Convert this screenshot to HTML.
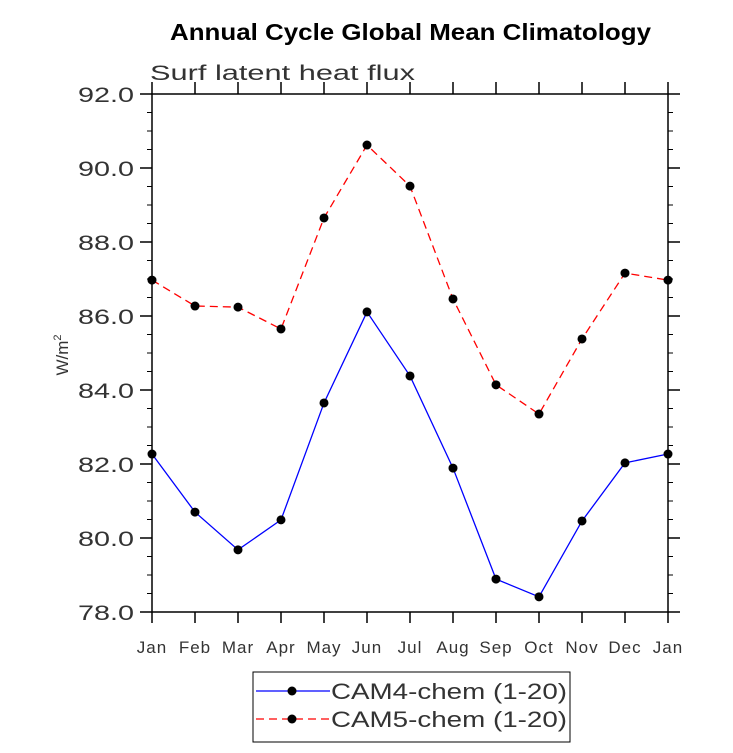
<!DOCTYPE html>
<html><head><meta charset="utf-8"><style>body{margin:0;background:#fff}</style></head>
<body>
<svg id="c" width="733" height="748" xmlns="http://www.w3.org/2000/svg" font-family="Liberation Sans, sans-serif"></svg>
<script>
const months=["Jan","Feb","Mar","Apr","May","Jun","Jul","Aug","Sep","Oct","Nov","Dec","Jan"];
const cam4=[82.27,80.70,79.68,80.49,83.65,86.11,84.38,81.89,78.89,78.41,80.46,82.03,82.27];
const cam5=[86.97,86.27,86.24,85.65,88.65,90.62,89.51,86.46,84.14,83.35,85.38,87.16,86.97];
const yTicks=[78,80,82,84,86,88,90,92];
const NS="http://www.w3.org/2000/svg";
const svg=document.getElementById('c');
const L=152,R=668,T=94,B=612,ymin=78,ymax=92;
const xs=i=>L+(R-L)*i/(months.length-1);
const ys=v=>B-(v-ymin)/(ymax-ymin)*(B-T);
function mk(tag,a,txt){const e=document.createElementNS(NS,tag);for(const k in a)e.setAttribute(k,a[k]);if(txt!=null)e.textContent=txt;svg.appendChild(e);return e;}
let e;
e=mk('text',{x:170,y:40,'font-size':23,'font-weight':'bold',textLength:481,lengthAdjust:'spacingAndGlyphs'},'Annual Cycle Global Mean Climatology');


e=mk('text',{x:150,y:80,'font-size':21,fill:'#333',textLength:265,lengthAdjust:'spacingAndGlyphs'},'Surf latent heat flux');


e=mk('rect',{x:L,y:T,width:R-L,height:B-T,fill:'none',stroke:'#000','stroke-width':1.5});


for(let v=ymin;v<=ymax+1e-9;v+=0.5){
 const major=Math.abs(v-Math.round(v/2)*2)<1e-9;const len=major?12:5;const y=ys(v);
 mk('line',{x1:L-len,x2:L,y1:y,y2:y,stroke:'#000','stroke-width':major?1.5:1});
 mk('line',{x1:R,x2:R+len,y1:y,y2:y,stroke:'#000','stroke-width':major?1.5:1});
}
yTicks.forEach(v=>{e=mk('text',{x:L-18,y:ys(v)+8,'text-anchor':'end','font-size':21,fill:'#333',textLength:56,lengthAdjust:'spacingAndGlyphs'},v.toFixed(1));

});
months.forEach((m,i)=>{const x=xs(i);
 mk('line',{x1:x,x2:x,y1:B,y2:B+11,stroke:'#000','stroke-width':1.5});
 mk('line',{x1:x,x2:x,y1:T-12,y2:T,stroke:'#000','stroke-width':1.5});
 e=mk('text',{x:x,y:653,'text-anchor':'middle','font-size':17,fill:'#333','letter-spacing':'1'},m);
 
 });
e=mk('text',{x:0,y:0,transform:'translate(68,355) rotate(-90)','text-anchor':'middle','font-size':17,fill:'#333'},'');
e.innerHTML='W/m<tspan dy="-7" font-size="11">2</tspan>';


function series(data,color,dash,name){
 e=mk('polyline',{points:data.map((v,i)=>xs(i)+','+ys(v)).join(' '),fill:'none',stroke:color,'stroke-width':1.3,'stroke-dasharray':dash});
 
 
 data.forEach((v,i)=>{e=mk('circle',{cx:xs(i),cy:ys(v),r:4.5,fill:'#000'});
 
 });
}
series(cam4,'#0000ff','none','cam4');
series(cam5,'#ff0000','8,5','cam5');
e=mk('rect',{x:253,y:672,width:317,height:70,fill:'none',stroke:'#000','stroke-width':1});


[['CAM4-chem (1-20)','#0000ff','none',691],['CAM5-chem (1-20)','#ff0000','8,5',719]].forEach(([t,c,d,y])=>{
 mk('line',{x1:256,x2:330,y1:y,y2:y,stroke:c,'stroke-width':1.3,'stroke-dasharray':d});
 mk('circle',{cx:292,cy:y,r:4.5,fill:'#000'});
 e=mk('text',{x:331,y:y+8,'font-size':22,fill:'#333',textLength:236,lengthAdjust:'spacingAndGlyphs'},t);
 
 
});
</script>
</body></html>
